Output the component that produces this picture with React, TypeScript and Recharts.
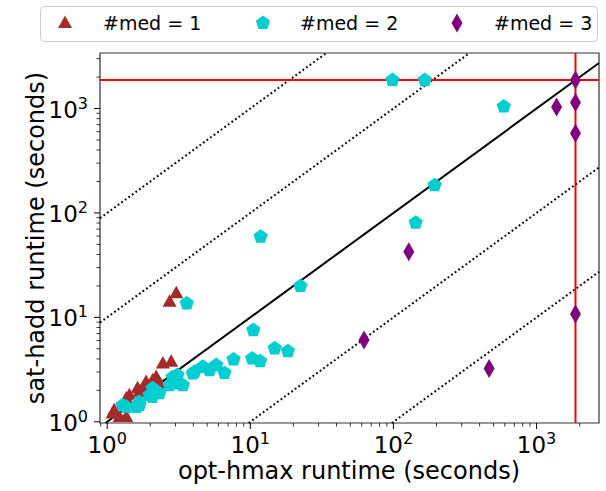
import { ReferenceArea, ReferenceLine, Scatter, ScatterChart, XAxis, YAxis } from "recharts";

const FONT = "DejaVu Sans, Verdana, sans-serif";

const TIMEOUT = 1870;
const X_DOMAIN: [number, number] = [0.891, 2730];
const Y_DOMAIN: [number, number] = [0.974, 3400];

const SERIES_NAMES = ["#med = 1", "#med = 2", "#med = 3"];
const SERIES_COLORS = ["#a52a2a", "#00ced1", "#800080"];

// #med = 1
const med1X = [1.09, 1.12, 1.22, 1.36, 1.36, 1.43, 1.63, 1.68, 1.77, 1.87, 2.08, 2.2, 2.32, 2.45, 2.8, 2.73, 3.04];
const med1Y = [1.2, 1.29, 1.11, 1.11, 1.67, 1.8, 2.09, 1.94, 2.08, 2.41, 2.5, 2.69, 2.33, 3.62, 3.75, 14.1, 17.0];

// #med = 2
const med2X = [
  1.28, 1.36, 1.6, 1.68, 1.68, 1.98, 2.07, 2.08, 2.32, 2.73, 2.86, 3.04, 3.1, 3.2, 3.38, 3.04,
  3.97, 4.08, 4.66, 5.19, 5.78, 6.6, 7.64, 10.3, 11.7, 10.5, 14.8, 18.3, 3.6, 22.4, 11.8,
  143, 194, 590, 98.4, 165.6,
];
const med2Y = [
  1.44, 1.39, 1.39, 1.44, 1.55, 1.8, 1.73, 2.09, 1.88, 2.24, 2.67, 2.5, 2.8, 2.33, 2.24, 2.74,
  2.9, 3.01, 3.36, 3.12, 3.49, 2.94, 3.96, 4.04, 3.81, 7.55, 5.05, 4.75, 13.6, 19.95, 59.3,
  80.7, 184, 1045, TIMEOUT, TIMEOUT,
];

// #med = 3
const med3X = [62.3, 128, 466, 1380, TIMEOUT, TIMEOUT, TIMEOUT, TIMEOUT];
const med3Y = [6.06, 42.6, 3.24, 1031, 10.8, 581, 1142, TIMEOUT];

const X_TICKS = [0.9, 1, 2, 3, 4, 5, 6, 7, 8, 9, 10, 20, 30, 40, 50, 60, 70, 80, 90, 100, 200, 300, 400, 500, 600, 700, 800, 900, 1000, 2000];
const Y_TICKS = [1, 2, 3, 4, 5, 6, 7, 8, 9, 10, 20, 30, 40, 50, 60, 70, 80, 90, 100, 200, 300, 400, 500, 600, 700, 800, 900, 1000, 2000, 3000];

// y = r * x guides
const DOTTED_RATIOS = [100, 10, 0.1, 0.01];

const toPoints = (xs: number[], ys: number[]) => xs.map((x, i) => ({ x, y: ys[i] }));

const guideSegment = (r: number) => {
  const x1 = Math.max(X_DOMAIN[0], Y_DOMAIN[0] / r);
  const x2 = Math.min(X_DOMAIN[1], Y_DOMAIN[1] / r);
  return [
    { x: x1, y: x1 * r },
    { x: x2, y: x2 * r },
  ];
};

const isMajor = (v: number) => Math.abs(Math.log10(v) - Math.round(Math.log10(v))) < 1e-6;

const XTick = ({ x, y, payload }: any) => {
  const v = payload.value as number;
  const major = isMajor(v);
  return (
    <g>
      <line x1={x} x2={x} y1={y} y2={y + (major ? 6 : 3.5)} stroke="#000" strokeWidth={major ? 1 : 0.8} />
      {major && (
        <text x={x} y={y + 30} textAnchor="middle" fontSize={23} fontFamily={FONT} fill="#000">
          10
          <tspan dy={-9} fontSize={16}>
            {Math.round(Math.log10(v))}
          </tspan>
        </text>
      )}
    </g>
  );
};

const YTick = ({ x, y, payload }: any) => {
  const v = payload.value as number;
  const major = isMajor(v);
  return (
    <g>
      <line x1={x} x2={x - (major ? 6 : 3.5)} y1={y} y2={y} stroke="#000" strokeWidth={major ? 1 : 0.8} />
      {major && (
        <text x={x - 12} y={y + 9} textAnchor="end" fontSize={23} fontFamily={FONT} fill="#000">
          10
          <tspan dy={-9} fontSize={16}>
            {Math.round(Math.log10(v))}
          </tspan>
        </text>
      )}
    </g>
  );
};

const trianglePts = (cx: number, cy: number) => `${cx},${cy - 7.5} ${cx - 7},${cy + 5} ${cx + 7},${cy + 5}`;

const pentagonPts = (cx: number, cy: number) =>
  [0, 1, 2, 3, 4]
    .map((k) => {
      const a = ((-90 + 72 * k) * Math.PI) / 180;
      return `${cx + 7.5 * Math.cos(a)},${cy + 7.5 * Math.sin(a)}`;
    })
    .join(" ");

const diamondPts = (cx: number, cy: number) => `${cx},${cy - 9.5} ${cx + 5.5},${cy} ${cx},${cy + 9.5} ${cx - 5.5},${cy}`;

const SHAPES = [trianglePts, pentagonPts, diamondPts];

const makeShape = (i: number) => (props: any) => <polygon points={SHAPES[i](props.cx, props.cy)} fill={SERIES_COLORS[i]} />;

const LEGEND_ICON_X = [65, 263, 457];
const LEGEND_TEXT_X = [103, 300, 494];

const App = () => {
  return (
    <div style={{ position: "absolute", left: 0, top: 0, width: 606, height: 491, background: "#fff" }}>
      <ScatterChart width={606} height={491} margin={{ top: 53, right: 7, bottom: 28, left: 40 }}>
        <XAxis
          dataKey="x"
          type="number"
          scale="log"
          domain={X_DOMAIN}
          allowDataOverflow
          ticks={X_TICKS}
          interval={0}
          tick={<XTick />}
          tickLine={false}
          tickSize={0}
          tickMargin={0}
          height={40}
          axisLine={false}
          label={{
            content: () => (
              <text x={349} y={479} textAnchor="middle" fontSize={24} fontFamily={FONT} fill="#000">
                opt-hmax runtime (seconds)
              </text>
            ),
          }}
        />
        <YAxis
          dataKey="y"
          type="number"
          scale="log"
          domain={Y_DOMAIN}
          allowDataOverflow
          ticks={Y_TICKS}
          interval={0}
          tick={<YTick />}
          tickLine={false}
          tickSize={0}
          tickMargin={0}
          width={60}
          axisLine={false}
          label={{
            content: () => (
              <text x={44} y={238} transform="rotate(-90, 44, 238)" textAnchor="middle" fontSize={24} fontFamily={FONT} fill="#000">
                sat-hadd runtime (seconds)
              </text>
            ),
          }}
        />
        {[0, 1, 2].map((i) => (
          <Scatter
            key={i}
            name={SERIES_NAMES[i]}
            data={toPoints([med1X, med2X, med3X][i], [med1Y, med2Y, med3Y][i])}
            shape={makeShape(i)}
            isAnimationActive={false}
          />
        ))}
        {DOTTED_RATIOS.map((r) => (
          <ReferenceLine key={r} segment={guideSegment(r)} stroke="#000" strokeWidth={2} strokeDasharray="1.8 2.6" ifOverflow="visible" />
        ))}
        <ReferenceLine segment={guideSegment(1)} stroke="#000" strokeWidth={2} ifOverflow="visible" />
        <ReferenceLine x={TIMEOUT} stroke="#ff0000" strokeWidth={2} ifOverflow="visible" />
        <ReferenceLine y={TIMEOUT} stroke="#ff0000" strokeWidth={2} ifOverflow="visible" />
        <ReferenceArea
          x1={X_DOMAIN[0]}
          x2={X_DOMAIN[1]}
          y1={Y_DOMAIN[0]}
          y2={Y_DOMAIN[1]}
          fill="none"
          fillOpacity={0}
          stroke="#333"
          strokeWidth={1.2}
          ifOverflow="visible"
        />
      </ScatterChart>
      <svg width={606} height={491} style={{ position: "absolute", left: 0, top: 0, pointerEvents: "none" }}>
        <rect x={40.5} y={6.5} width={557} height={35} rx={4} ry={4} fill="#fff" fillOpacity={0.8} stroke="#ccc" strokeWidth={1} />
        {SERIES_NAMES.map((name, i) => (
          <g key={name}>
            <polygon points={SHAPES[i](LEGEND_ICON_X[i], 23)} fill={SERIES_COLORS[i]} />
            <text x={LEGEND_TEXT_X[i]} y={30} fontSize={19} fontFamily={FONT} fill="#000">
              {name}
            </text>
          </g>
        ))}
      </svg>
    </div>
  );
};

export default App;
